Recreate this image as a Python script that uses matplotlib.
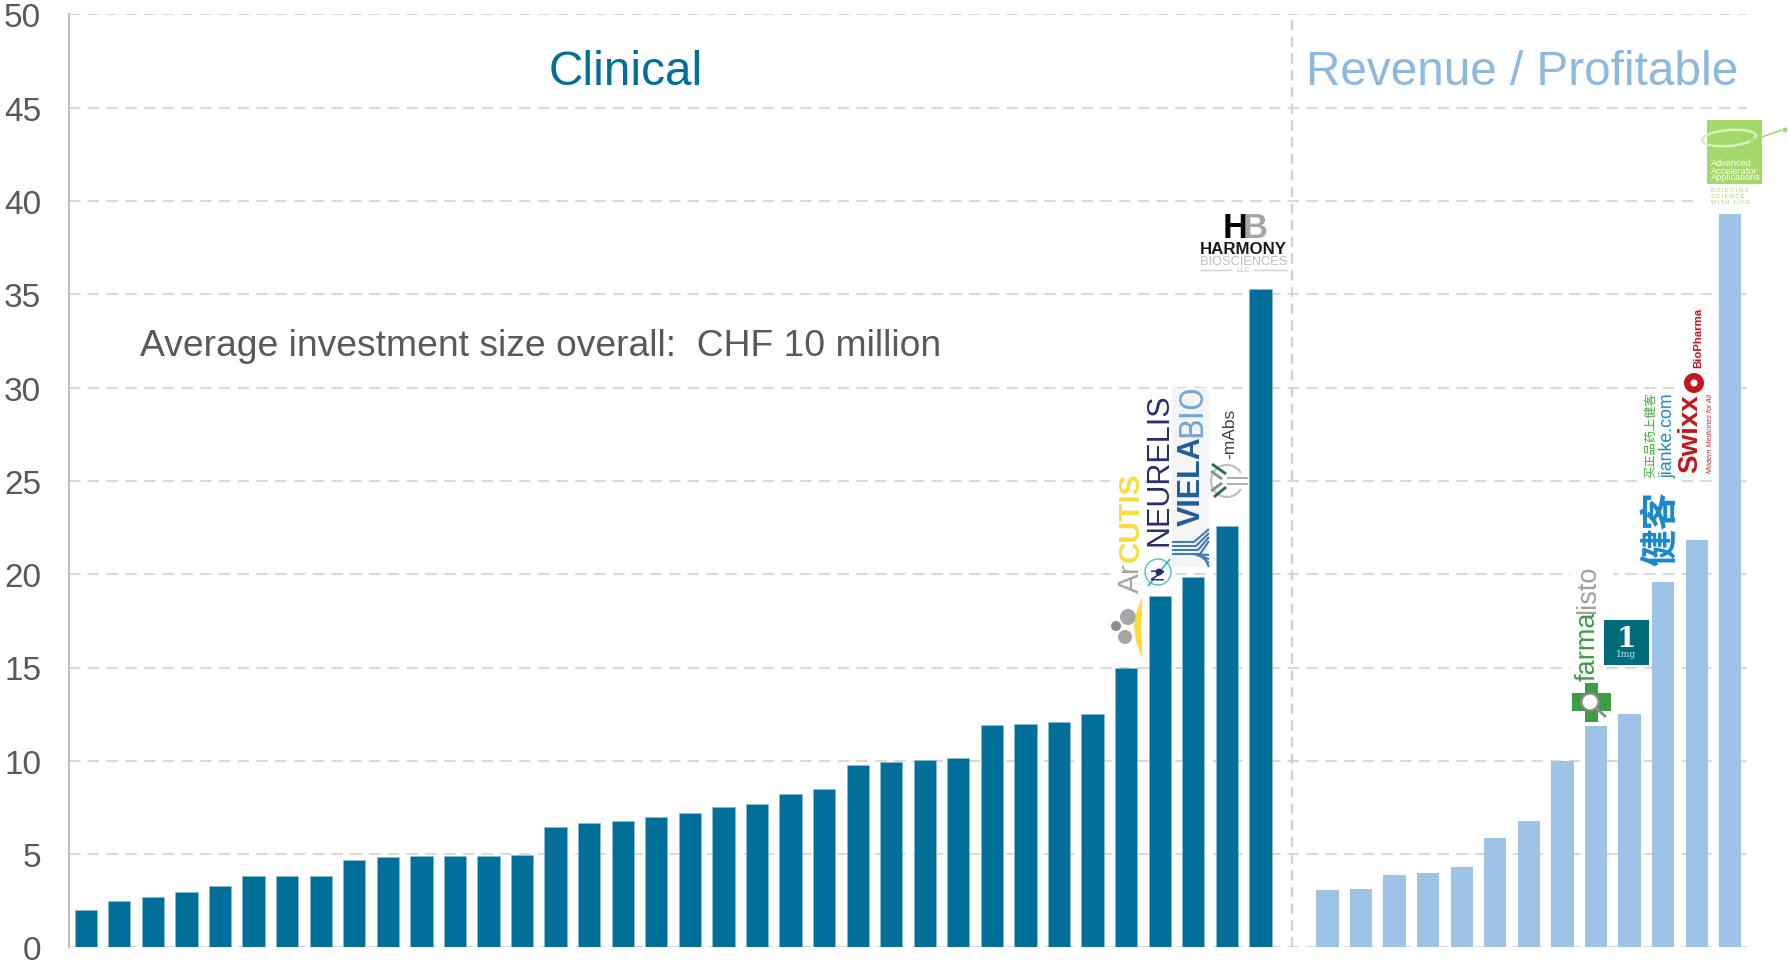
"""Clinical vs revenue investment sizes, with the company names drawn over the bars."""

import numpy as np
import matplotlib
matplotlib.use("Agg")
import matplotlib.pyplot as plt
from matplotlib.patches import Circle, Rectangle, Ellipse, Polygon, Arc

plt.rcParams["font.family"] = ["Liberation Sans", "DejaVu Sans"]

clinical = [2.0, 2.5, 2.7, 2.95, 3.3, 3.85, 3.85, 3.85, 4.7, 4.85, 4.9, 4.9,
            4.9, 4.95, 6.45, 6.65, 6.75, 7.0, 7.2, 7.5, 7.7, 8.2, 8.5, 9.8,
            9.95, 10.05, 10.15, 11.9, 11.95, 12.1, 12.5, 14.95, 18.85, 19.85,
            22.6, 35.3]
revenue = [3.05, 3.15, 3.9, 4.0, 4.3, 5.85, 6.75, 10.0, 11.85, 12.5, 19.6,
           21.85, 39.3]
y_ticks = [0, 5, 10, 15, 20, 25, 30, 35, 40, 45, 50]

AZUL = "#00709A"
CELESTE = "#9DC3E6"
GRIS = "#595959"
REJILLA = "#D9D9D9"
CJK = ["Noto Sans CJK SC", "DejaVu Sans"]

W, H = 1788, 962
fig = plt.figure(figsize=(W / 100, H / 100), dpi=100, facecolor="white")
ax = fig.add_axes([69 / W, 1 - 948.4 / H, (1747 - 69) / W, (948.4 - 15.4) / H])

x_cli = np.arange(len(clinical))
x_rev = np.arange(len(revenue)) + len(clinical) + 1
ax.bar(x_cli, clinical, width=0.665, color=AZUL, edgecolor="#8DBBCE", lw=0.5, zorder=3)
ax.bar(x_rev, revenue, width=0.665, color=CELESTE, zorder=3)

ax.set_xlim(-0.5, 49.5)
ax.set_ylim(0, 50)
ax.set_xticks([])
ax.set_yticks(y_ticks)
ax.tick_params(axis="y", length=0, pad=20, labelsize=24, labelcolor=GRIS)
ax.grid(True, axis="y", color=REJILLA, lw=1.5, dashes=(5.5, 3.5), zorder=0)
ax.set_axisbelow(True)
for lado in ["top", "right", "bottom"]:
    ax.spines[lado].set_visible(False)
ax.spines["left"].set_color("#BFBFBF")
ax.spines["left"].set_linewidth(1.5)
ax.axvline(35.93, color="#D0D0D0", lw=1.6, dashes=(4.5, 3), zorder=1)

# capa en pixeles para los textos y logos
ov = fig.add_axes([0, 0, 1, 1], facecolor="none")
ov.set_xlim(0, W)
ov.set_ylim(H, 0)
ov.axis("off")


def caja(x0, y0, x1, y1, color="white", z=4):
    ov.add_patch(Rectangle((x0, y0), x1 - x0, y1 - y0, fc=color, ec="none", zorder=z))


def vert(x, y, s, size, color, weight="normal", **kw):
    """Texto girado 90 grados: (x, y) es el inicio abajo, centrado en x."""
    ov.text(x, y, s, rotation=90, rotation_mode="anchor", ha="left", va="center",
            fontsize=size, color=color, fontweight=weight, zorder=6, **kw)


def linea(xs, ys, color, lw=1.0, z=6):
    ov.plot(xs, ys, color=color, lw=lw, solid_capstyle="butt", zorder=z)


ov.text(626, 72.5, "Clinical", fontsize=34.4, color=AZUL, ha="center", va="center")
ov.text(1522, 72.5, "Revenue / Profitable", fontsize=34.4, color="#8DB9DF",
        ha="center", va="center")
ov.text(140, 346.5, "Average investment size overall:  CHF 10 million", fontsize=26.8,
        color=GRIS, ha="left", va="center")

# Harmony
ov.text(1235, 228, "H", fontsize=25, fontweight="bold", color="black", ha="center", va="center", zorder=6)
ov.text(1255, 228, "B", fontsize=25, fontweight="bold", color="#A6A6A6", ha="center", va="center", zorder=6)
ov.text(1243.5, 249, "HARMONY", fontsize=12.2, fontweight="bold", color="#1A1A1A", ha="center", va="center", zorder=6)
ov.text(1243.5, 262, "BIOSCIENCES", fontsize=9.3, color="#BFBFBF", ha="center", va="center", zorder=6)
ov.text(1243.5, 271, "LLC", fontsize=5.5, color="#BFBFBF", ha="center", va="center", zorder=6)
linea([1200, 1232], [271, 271], "#D0D0D0")
linea([1254, 1288], [271, 271], "#D0D0D0")

# Arcutis
caja(1110, 470, 1145, 662)
vert(1131, 593, "Ar", 21.5, "#A6A6A6")
vert(1131, 562, "CUTIS", 21.5, "#F9DD3A", weight="bold")
ov.add_patch(Circle((1128, 618), 8, fc="#A6A6A6", ec="none", zorder=6))
ov.add_patch(Circle((1116, 627), 5, fc="#8C8C8C", ec="none", zorder=6))
ov.add_patch(Circle((1125, 638), 7, fc="#A6A6A6", ec="none", zorder=6))
ov.add_patch(Polygon([(1142, 598), (1136, 615), (1134, 628), (1136, 642), (1142, 660),
                      (1142, 640), (1141, 628), (1142, 615)], fc="#F9DD3A", ec="none", zorder=7))

# Neurelis
caja(1148, 398, 1172, 590)
vert(1160, 546, "NEURELIS", 22, "#2B2C6E")
ov.add_patch(Circle((1158, 573), 13, fc="none", ec="#49C1C1", lw=1, zorder=6))
linea([1148, 1170], [587, 560], "#2AB5B5", lw=1.2)
ov.text(1159, 573, "N", rotation=90, fontsize=13, color="#2B2C6E", ha="center", va="center", zorder=6)
ov.add_patch(Circle((1159, 573), 3.5, fc="#2B2C6E", ec="none", zorder=7))

# Viela Bio
caja(1172, 389, 1209, 568, color="#F5F5F5")
vert(1192, 526, "VIELA", 22, "#1F5C99", weight="bold")
vert(1192, 437, "BIO", 24, "#6FA8D8", family="Roboto")
for d in range(0, 16, 4):
    linea([1172, 1194 + d * 0.5, 1209], [543 + d, 543 + d, 530 + d], "#3F7CB6", lw=1.5)
    linea([1192 + d, 1209], [555 + d * 0.2, 568 - (12 - d)], "#3F7CB6", lw=1.5)

# mAbs
caja(1210, 405, 1247, 505)
vert(1230, 459, "-mAbs", 12.5, "#404040")
ov.add_patch(Arc((1227, 482), 32, 32, theta1=30, theta2=330, ec="#BFBFBF", lw=1.6, zorder=6))
linea([1227, 1248], [479, 479], "#A6A6A6", lw=1.3)
linea([1227, 1248], [485, 485], "#A6A6A6", lw=1.3)
linea([1212, 1226], [465, 475], "#1E6B52", lw=2)
linea([1214, 1226], [498, 488], "#1E6B52", lw=2)
linea([1211, 1222], [472, 480], "#8C8C8C", lw=2)
linea([1211, 1222], [492, 484], "#8C8C8C", lw=2)

# Advanced Accelerator Applications
caja(1700, 112, 1768, 209)
caja(1707, 121, 1762, 185, color="#A5D86A", z=5)
ov.add_patch(Ellipse((1729, 139), 54, 16, angle=-5, fc="none", ec="#D9F0B8", lw=1.8, zorder=6))
linea([1750, 1782], [142, 131], "#A5D86A", lw=1.2)
ov.add_patch(Circle((1785, 131), 2.5, fc="#A5D86A", ec="none", zorder=6))
for yy, s in zip([163, 171, 178], ["Advanced", "Accelerator", "Applications"]):
    ov.text(1711, yy, s, fontsize=6.6, color="white", ha="left", va="center", zorder=6)
for yy, s in zip([191, 197, 203], ["B R I D G I N G", "S C I E N C E", "W I T H   L I F E"]):
    ov.text(1711, yy, s, fontsize=4, color="#A5D86A", ha="left", va="center", zorder=6)

# Swixx
caja(1680, 300, 1717, 476)
vert(1690, 473, "Swixx", 20, "#C4161C", weight="bold")
ov.add_patch(Circle((1694, 384), 10, fc="#C4161C", ec="none", zorder=6))
ov.add_patch(Circle((1694, 384), 3.5, fc="white", ec="none", zorder=7))
vert(1698, 368, "BioPharma", 8.2, "#C4161C", weight="bold")
vert(1711, 473, "Modern Medicines for All", 5.2, "#A8323A", style="italic")

# Jianke
caja(1640, 390, 1680, 568)
vert(1661, 566, "健客", 27, "#1A87CC", family=CJK, weight="bold")
vert(1651, 478, "买正品药上健客", 8.8, "#3DAA35", family=CJK)
vert(1668, 478, "jianke.com", 12.8, "#1A87CC")

# 1mg
caja(1604, 621, 1649, 666, color="#006B7B", z=5)
ov.text(1626, 640, "1", fontsize=20, fontweight="bold", color="white", family="DejaVu Serif",
        ha="center", va="center", zorder=6)
ov.text(1626, 655, "1mg", fontsize=6.5, color="#BDEBEF", family="DejaVu Serif",
        ha="center", va="center", zorder=6)

# Farmalisto
caja(1570, 562, 1604, 724)
caja(1604, 562, 1613, 620)
vert(1588, 681, "farma", 19.5, "#3E9C45")
vert(1588, 614, "listo", 19.5, "#A0A0A0")
caja(1585, 684, 1598, 723, color="#3E9C45", z=5)
caja(1572, 694, 1611, 712, color="#3E9C45", z=5)
ov.add_patch(Circle((1590, 703), 8.5, fc="white", ec="#8C8C8C", lw=1.6, zorder=6))
linea([1596, 1606], [709, 718], "#8C8C8C", lw=2)

fig.savefig("out.png", dpi=100, facecolor="white")
